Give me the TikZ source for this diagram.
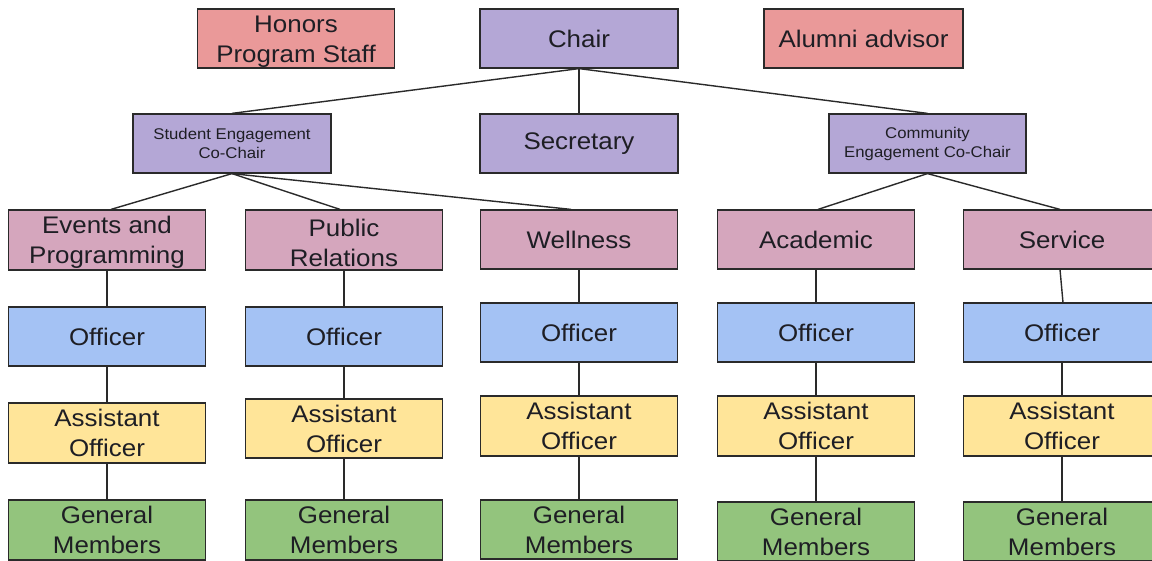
\documentclass[tikz,border=0pt]{standalone}
\usepackage{fontspec}
\setmainfont{Liberation Sans}[FakeStretch=1.08]
\definecolor{salmon}{HTML}{EA9999}
\definecolor{lpurple}{HTML}{B4A7D6}
\definecolor{lpink}{HTML}{D5A6BD}
\definecolor{lblue}{HTML}{A4C2F4}
\definecolor{lyellow}{HTML}{FFE599}
\definecolor{lgreen}{HTML}{93C47D}
\definecolor{edge}{HTML}{2A2A2A}
\definecolor{txt}{HTML}{1E1E24}
\newcommand\bigtxt{\fontsize{24}{30}\selectfont}
\newcommand\smalltxt{\fontsize{15.5}{19}\selectfont}
\newcommand\lowstrut{\rule{0pt}{22.5pt}}
\begin{document}
\begin{tikzpicture}[x=1pt,y=-1pt,
  box/.style={draw=edge, line width=1.2pt, minimum width=197pt, minimum height=59pt,
    inner sep=0pt, align=center, text=txt, font=\bigtxt},
  smallbox/.style={box, font=\smalltxt},
  conn/.style={draw=edge, line width=1.4pt}]
\useasboundingbox (0,0) rectangle (1152,561);
\fill[white] (0,0) rectangle (1152,561);
\clip (0,0) rectangle (1152,561);
% top row
\node[box, fill=salmon] (hon) at (296,38.5) {\lowstrut Honors\\Program Staff};
\node[box, fill=lpurple, minimum width=198pt] (chair) at (579,38.5) {Chair};
\node[box, fill=salmon, minimum width=199pt] (alum) at (863.5,38.5) {Alumni advisor};
% second row
\node[smallbox, fill=lpurple, minimum width=198pt] (sec1) at (232,143.5) {Student Engagement\\Co-Chair};
\node[box, fill=lpurple, minimum width=198pt] (secr) at (579,143.5) {Secretary};
\node[smallbox, fill=lpurple] (sec2) at (927.5,143.5) {Community\\Engagement Co-Chair};
% departments
\node[box, fill=lpink, minimum height=60pt] (ev) at (107,240) {\lowstrut Events and\\Programming};
\node[box, fill=lpink, minimum height=60pt] (pr) at (344,240) {\lowstrut Public\\Relations};
\node[box, fill=lpink] (we) at (579,239.5) {Wellness};
\node[box, fill=lpink] (ac) at (816,239.5) {Academic};
\node[box, fill=lpink] (sv) at (1062,239.5) {Service};
% officers
\node[box, fill=lblue] (evo) at (107,336.5) {Officer};
\node[box, fill=lblue] (pro) at (344,336.5) {Officer};
\node[box, fill=lblue] (weo) at (579,332.5) {Officer};
\node[box, fill=lblue] (aco) at (816,332.5) {Officer};
\node[box, fill=lblue] (svo) at (1062,332.5) {Officer};
% assistant officers
\node[box, fill=lyellow, minimum height=60pt] (eva) at (107,433) {Assistant\\Officer};
\node[box, fill=lyellow] (pra) at (344,428.5) {Assistant\\Officer};
\node[box, fill=lyellow, minimum height=60pt] (wea) at (579,426) {Assistant\\Officer};
\node[box, fill=lyellow, minimum height=60pt] (aca) at (816,426) {Assistant\\Officer};
\node[box, fill=lyellow, minimum height=60pt] (sva) at (1062,426) {Assistant\\Officer};
% general members
\node[box, fill=lgreen, minimum height=60pt] (evg) at (107,530) {General\\Members};
\node[box, fill=lgreen, minimum height=60pt] (prg) at (344,530) {General\\Members};
\node[box, fill=lgreen] (weg) at (579,529.5) {General\\Members};
\node[box, fill=lgreen] (acg) at (816,531.5) {General\\Members};
\node[box, fill=lgreen] (svg) at (1062,531.5) {General\\Members};
% connectors
\draw[conn] (chair.south) -- (sec1.north);
\draw[conn] (chair.south) -- (secr.north);
\draw[conn] (chair.south) -- (sec2.north);
\draw[conn] (sec1.south) -- ([xshift=4pt]ev.north);
\draw[conn] (sec1.south) -- ([xshift=-4pt]pr.north);
\draw[conn] (sec1.south) -- ([xshift=-8pt]we.north);
\draw[conn] (sec2.south) -- ([xshift=2pt]ac.north);
\draw[conn] (sec2.south) -- ([xshift=-2pt]sv.north);
\foreach \a/\b in {ev/evo,evo/eva,eva/evg,pr/pro,pro/pra,pra/prg,we/weo,weo/wea,wea/weg,ac/aco,aco/aca,aca/acg,svo/sva,sva/svg}
  \draw[conn] (\a.south) -- (\b.north);
\draw[conn] ([xshift=-2pt]sv.south) -- ([xshift=1pt]svo.north);
\end{tikzpicture}
\end{document}
